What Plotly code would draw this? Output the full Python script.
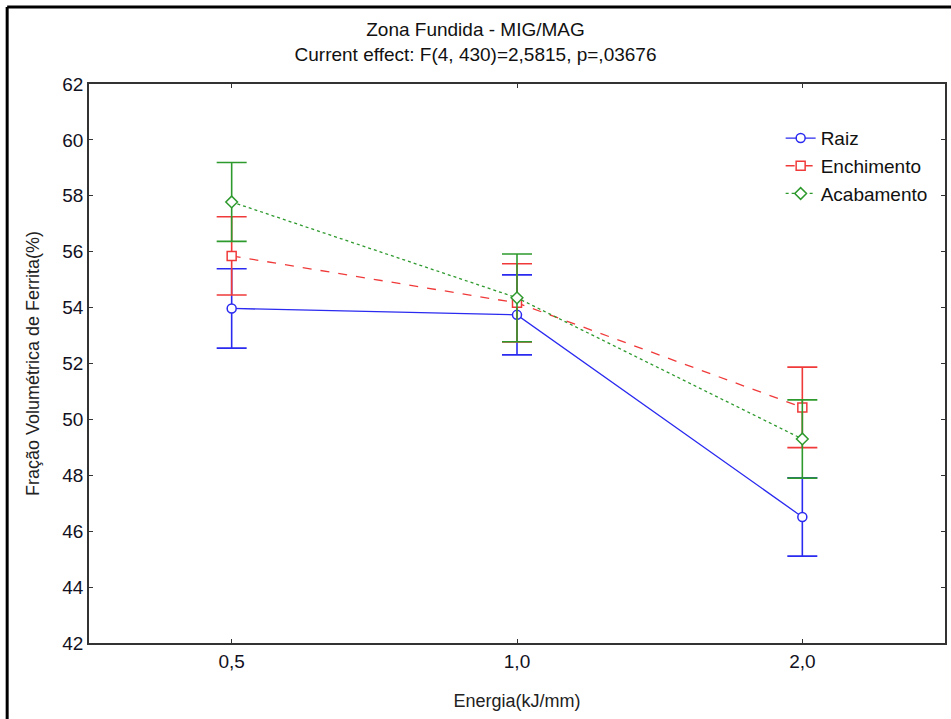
import plotly.graph_objects as go

categories = ["0,5", "1,0", "2,0"]

raiz_mean = [53.97, 53.74, 46.51]
raiz_err = [1.42, 1.43, 1.40]

ench_mean = [55.85, 54.17, 50.43]
ench_err = [1.40, 1.40, 1.44]

acab_mean = [57.78, 54.35, 49.30]
acab_err = [1.41, 1.57, 1.40]

title_lines = ["Zona Fundida - MIG/MAG", "Current effect: F(4, 430)=2,5815, p=,03676"]
x_title = "Energia(kJ/mm)"
y_title = "Fração Volumétrica de Ferrita(%)"
y_ticks = [42, 44, 46, 48, 50, 52, 54, 56, 58, 60, 62]

FONT = "Liberation Sans, Arial, sans-serif"

series = [
    ("Raiz", raiz_mean, raiz_err, "#2a2af0", "solid", "circle"),
    ("Enchimento", ench_mean, ench_err, "#f03a3a", "dash", "square"),
    ("Acabamento", acab_mean, acab_err, "#2e9a2e", "dot", "diamond"),
]

fig = go.Figure()
for name, mean, err, color, dash, sym in series:
    fig.add_trace(go.Scatter(
        x=categories, y=mean, name=name, mode="lines+markers",
        line=dict(color=color, width=1.3, dash=dash),
        marker=dict(symbol=sym, size=9, color="white", line=dict(color=color, width=1.5)),
        error_y=dict(type="data", array=err, visible=True, color=color, thickness=1.6, width=15),
    ))

fig.update_layout(
    width=951, height=719,
    margin=dict(l=89, r=4, t=84, b=76),
    paper_bgcolor="white", plot_bgcolor="white",
    font=dict(family=FONT, size=19, color="#111111"),
    title=dict(text="<br>".join(title_lines), x=0.5, xanchor="center", y=0.95, yanchor="top",
               font=dict(family=FONT, size=19, color="#111111")),
    showlegend=True,
    legend=dict(x=0.808, y=0.937, xanchor="left", yanchor="top", bgcolor="rgba(0,0,0,0)",
                font=dict(family=FONT, size=19, color="#111111"), tracegroupgap=0),
    xaxis=dict(type="category", range=[-0.5, 2.5], showgrid=False, zeroline=False,
               showline=True, linecolor="#333333", linewidth=1.5, mirror="ticks",
               ticks="inside", ticklen=4, tickcolor="#333333",
               tickfont=dict(family=FONT, size=19, color="#111122"),
               title=dict(text=x_title, font=dict(family=FONT, size=18, color="#222222"), standoff=24)),
    yaxis=dict(range=[42, 62], tickvals=y_ticks, showgrid=False, zeroline=False,
               showline=True, linecolor="#333333", linewidth=1.5, mirror="ticks",
               ticks="inside", ticklen=4, tickcolor="#333333",
               tickfont=dict(family=FONT, size=19, color="#111122"),
               title=dict(text=y_title, font=dict(family=FONT, size=18, color="#222222"), standoff=18)),
)

# outer figure frame (left and top edges visible in the reference)
fig.add_shape(type="line", xref="paper", yref="paper", x0=-0.0956, x1=1.01, y0=1.1377, y1=1.1377,
              line=dict(color="black", width=3))
fig.add_shape(type="line", xref="paper", yref="paper", x0=-0.0956, x1=-0.0956, y0=1.1377, y1=-0.2,
              line=dict(color="black", width=3))

fig.write_html("out.html", config={"displayModeBar": False},
               post_script="document.body.style.margin='0';document.body.style.overflow='hidden';")
